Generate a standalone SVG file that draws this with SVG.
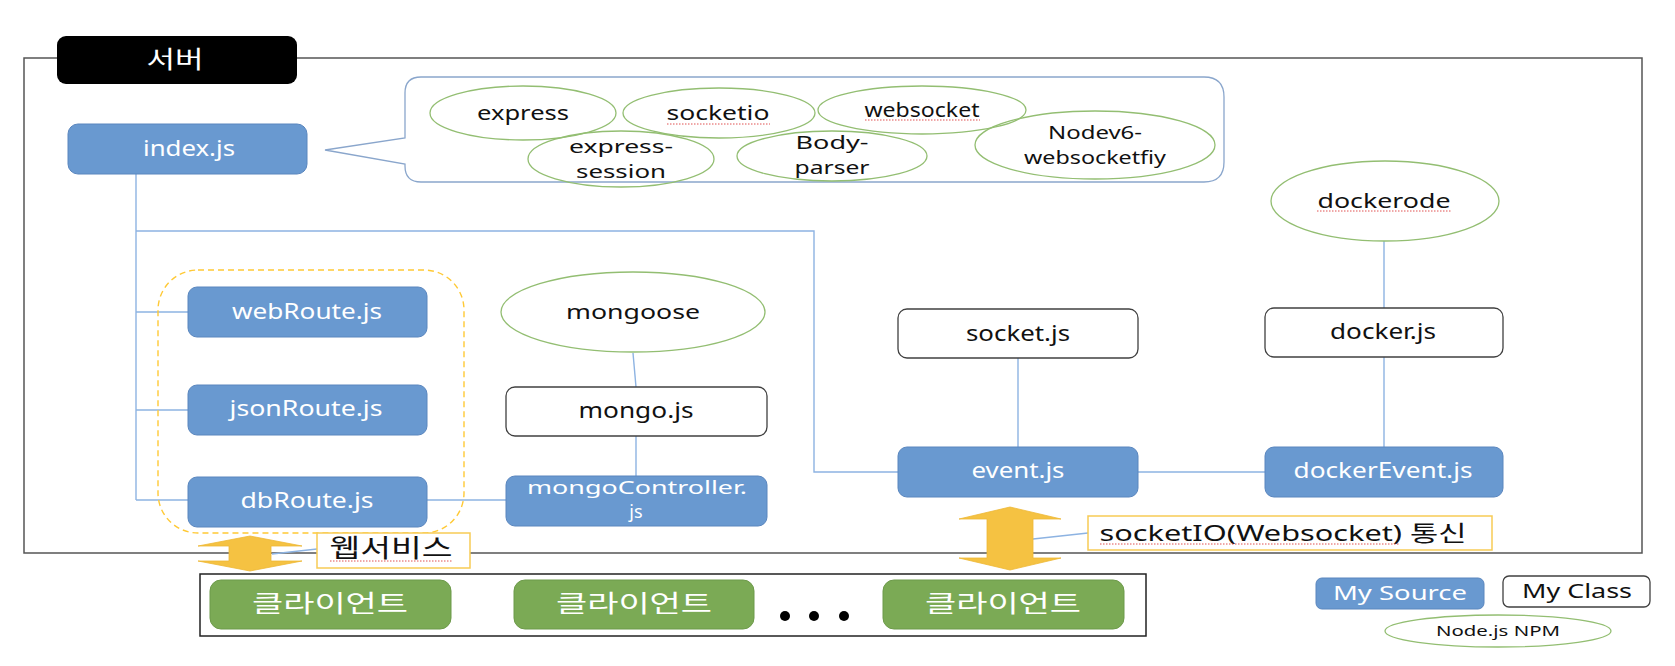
<svg xmlns="http://www.w3.org/2000/svg" width="1675" height="666" viewBox="0 0 1675 666">
<style>
text{font-family:'Noto Sans','Noto Sans CJK KR',sans-serif;text-anchor:middle}
.kr{font-family:'Noto Sans CJK KR','Noto Sans',sans-serif}
.src rect{fill:#6999D0;stroke:#5A86BE;stroke-width:1}
.src text{fill:#fff;font-size:21px}
.cls rect{fill:#fff;stroke:#404040;stroke-width:1.3}
.cls text{fill:#111;font-size:21px}
.npm ellipse{fill:none;stroke:#93BE72;stroke-width:1.3}
.npm text{fill:#111;font-size:20px}
.npm text.two{font-size:18px}
.src text.two{font-size:18px}
.cli rect{fill:#7BAA55;stroke:#6D9A4A;stroke-width:1}
.cli text{fill:#fff;font-size:24px}
.conn path{fill:none;stroke:#8DB3E2;stroke-width:1.4}
.arrow{fill:#F5C242;stroke:#EDB735;stroke-width:0.8}
.lbl rect{fill:#fff;stroke:#F7CB55;stroke-width:1.5}
.lbl text{fill:#111}
.sq{stroke:#E05050;stroke-width:1;stroke-dasharray:1.5 1.5;fill:none}
</style>

<!-- server frame -->
<g id="server-frame">
  <rect x="24" y="58" width="1618" height="495" fill="none" stroke="#555" stroke-width="1.5"/>
  <rect x="57" y="36" width="240" height="48" rx="9" fill="#000"/>
  <text class="kr" x="175" y="68" font-size="24" fill="#fff" textLength="57" lengthAdjust="spacingAndGlyphs">서버</text>
</g>

<!-- connectors -->
<g id="connectors" class="conn">
  <path d="M136,174 V500"/>
  <path d="M136,312 H188"/>
  <path d="M136,410 H188"/>
  <path d="M136,500 H188"/>
  <path d="M136,231 H814 V472 H898"/>
  <path d="M427,500 H506"/>
  <path d="M633,353 L636,387"/>
  <path d="M636,436 V476"/>
  <path d="M1018,358 V447"/>
  <path d="M1138,472 H1265"/>
  <path d="M1384,241 V308"/>
  <path d="M1384,357 V447"/>
  <path d="M272,554 L317,549"/>
  <path d="M1033,539 L1088,533"/>
</g>

<!-- index.js -->
<g id="index" class="src">
  <rect x="68" y="124" width="239" height="50" rx="10"/>
  <text x="189" y="156" textLength="92" lengthAdjust="spacingAndGlyphs">index.js</text>
</g>

<!-- npm callout -->
<g id="npm-callout">
  <path d="M421,77 H1204 Q1224,77 1224,97 V162 Q1224,182 1204,182 H421 Q405,182 405,166 V164 L325,150 L405,138 V93 Q405,77 421,77 Z" fill="#fff" stroke="#8AA6CC" stroke-width="1.3"/>
</g>
<g id="npm-express" class="npm">
  <ellipse cx="523" cy="113" rx="93" ry="27"/>
  <text x="523" y="120" textLength="92" lengthAdjust="spacingAndGlyphs">express</text>
</g>
<g id="npm-socketio" class="npm">
  <ellipse cx="719" cy="113" rx="96" ry="25"/>
  <text x="718" y="120" textLength="103" lengthAdjust="spacingAndGlyphs">socketio</text>
  <path class="sq" d="M667,124 H770"/>
</g>
<g id="npm-websocket" class="npm">
  <ellipse cx="922" cy="110" rx="104" ry="24"/>
  <text x="922" y="117" textLength="115" lengthAdjust="spacingAndGlyphs">websocket</text>
  <path class="sq" d="M865,120 H980"/>
</g>
<g id="npm-express-session" class="npm">
  <ellipse cx="621" cy="159" rx="93" ry="28"/>
  <text class="two" x="621" y="153" textLength="104" lengthAdjust="spacingAndGlyphs">express-</text>
  <text class="two" x="621" y="178" textLength="90" lengthAdjust="spacingAndGlyphs">session</text>
</g>
<g id="npm-body-parser" class="npm">
  <ellipse cx="832" cy="156" rx="95" ry="25"/>
  <text class="two" x="832" y="149" textLength="73" lengthAdjust="spacingAndGlyphs">Body-</text>
  <text class="two" x="832" y="174" textLength="75" lengthAdjust="spacingAndGlyphs">parser</text>
</g>
<g id="npm-nodev6" class="npm">
  <ellipse cx="1095" cy="145" rx="120" ry="34"/>
  <text class="two" x="1095" y="139" textLength="94" lengthAdjust="spacingAndGlyphs">Nodev6-</text>
  <text class="two" x="1095" y="164" textLength="142" lengthAdjust="spacingAndGlyphs">websocketfiy</text>
</g>

<!-- web routes group -->
<g id="web-service-group">
  <rect x="158" y="270" width="306" height="263" rx="40" fill="none" stroke="#FFC935" stroke-width="1.4" stroke-dasharray="6 4"/>
</g>
<g id="webRoute" class="src">
  <rect x="188" y="287" width="239" height="50" rx="9"/>
  <text x="307" y="319" textLength="150" lengthAdjust="spacingAndGlyphs">webRoute.js</text>
</g>
<g id="jsonRoute" class="src">
  <rect x="188" y="385" width="239" height="50" rx="9"/>
  <text x="306" y="416" textLength="153" lengthAdjust="spacingAndGlyphs">jsonRoute.js</text>
</g>
<g id="dbRoute" class="src">
  <rect x="188" y="477" width="239" height="50" rx="9"/>
  <text x="307" y="508" textLength="133" lengthAdjust="spacingAndGlyphs">dbRoute.js</text>
</g>

<!-- mongo -->
<g id="mongoose" class="npm">
  <ellipse cx="633" cy="312" rx="132" ry="40" fill="#fff"/>
  <text x="633" y="319" textLength="134" lengthAdjust="spacingAndGlyphs">mongoose</text>
</g>
<g id="mongo" class="cls">
  <rect x="506" y="387" width="261" height="49" rx="9"/>
  <text x="636" y="418" textLength="115" lengthAdjust="spacingAndGlyphs">mongo.js</text>
</g>
<g id="mongoController" class="src">
  <rect x="506" y="476" width="261" height="50" rx="9"/>
  <text class="two" x="637" y="494" textLength="220" lengthAdjust="spacingAndGlyphs">mongoController.</text>
  <text class="two" x="636" y="518">js</text>
</g>

<!-- socket side -->
<g id="socket" class="cls">
  <rect x="898" y="309" width="240" height="49" rx="9"/>
  <text x="1018" y="341" textLength="104" lengthAdjust="spacingAndGlyphs">socket.js</text>
</g>
<g id="event" class="src">
  <rect x="898" y="447" width="240" height="50" rx="9"/>
  <text x="1018" y="478" textLength="93" lengthAdjust="spacingAndGlyphs">event.js</text>
</g>
<g id="dockerode" class="npm">
  <ellipse cx="1385" cy="201" rx="114" ry="40" fill="#fff"/>
  <text x="1384" y="208" textLength="133" lengthAdjust="spacingAndGlyphs">dockerode</text>
  <path class="sq" d="M1317,211 H1451"/>
</g>
<g id="docker" class="cls">
  <rect x="1265" y="308" width="238" height="49" rx="9"/>
  <text x="1383" y="339" textLength="106" lengthAdjust="spacingAndGlyphs">docker.js</text>
</g>
<g id="dockerEvent" class="src">
  <rect x="1265" y="447" width="238" height="50" rx="9"/>
  <text x="1383" y="478" textLength="179" lengthAdjust="spacingAndGlyphs">dockerEvent.js</text>
</g>

<!-- arrows and labels -->
<g id="web-arrow">
  <path class="arrow" d="M250,536 L302,546 L271,546 L271,561 L302,561 L250,571 L198,561 L229,561 L229,546 L198,546 Z"/>
</g>
<g id="web-label" class="lbl">
  <rect x="317" y="533" width="153" height="35"/>
  <text class="kr" x="391" y="557" font-size="25" textLength="123" lengthAdjust="spacingAndGlyphs">웹서비스</text>
  <path class="sq" d="M330,561 H453"/>
</g>
<g id="socket-arrow">
  <path class="arrow" d="M1010,507 L1061,519 L1033,519 L1033,558 L1061,558 L1010,570 L959,558 L987,558 L987,519 L959,519 Z"/>
</g>
<g id="socket-label" class="lbl">
  <rect x="1088" y="516" width="404" height="34"/>
  <text x="1283" y="541" font-size="22" textLength="367" lengthAdjust="spacingAndGlyphs">socketIO(Websocket) 통신</text>
  <path class="sq" d="M1100,544 H1399"/>
</g>

<!-- clients -->
<g id="clients">
  <rect x="200" y="574" width="946" height="62" fill="#fff" stroke="#222" stroke-width="1.5"/>
  <circle cx="785" cy="616" r="5" fill="#000"/>
  <circle cx="814" cy="616" r="5" fill="#000"/>
  <circle cx="844" cy="616" r="5" fill="#000"/>
</g>
<g id="client1" class="cli">
  <rect x="210" y="580" width="241" height="49" rx="11"/>
  <text class="kr" x="330" y="612" textLength="156" lengthAdjust="spacingAndGlyphs">클라이언트</text>
</g>
<g id="client2" class="cli">
  <rect x="514" y="580" width="240" height="49" rx="11"/>
  <text class="kr" x="634" y="612" textLength="156" lengthAdjust="spacingAndGlyphs">클라이언트</text>
</g>
<g id="client3" class="cli">
  <rect x="883" y="580" width="241" height="49" rx="11"/>
  <text class="kr" x="1003" y="612" textLength="156" lengthAdjust="spacingAndGlyphs">클라이언트</text>
</g>

<!-- legend -->
<g id="legend-source" class="src">
  <rect x="1316" y="578" width="168" height="31" rx="6"/>
  <text x="1400" y="600" style="font-size:19px" textLength="134" lengthAdjust="spacingAndGlyphs">My Source</text>
</g>
<g id="legend-class" class="cls">
  <rect x="1503" y="576" width="147" height="31" rx="6"/>
  <text x="1577" y="598" style="font-size:19px" textLength="110" lengthAdjust="spacingAndGlyphs">My Class</text>
</g>
<g id="legend-npm" class="npm">
  <ellipse cx="1498" cy="631" rx="113" ry="16"/>
  <text x="1498" y="636" style="font-size:15px" textLength="124" lengthAdjust="spacingAndGlyphs">Node.js NPM</text>
</g>
</svg>
